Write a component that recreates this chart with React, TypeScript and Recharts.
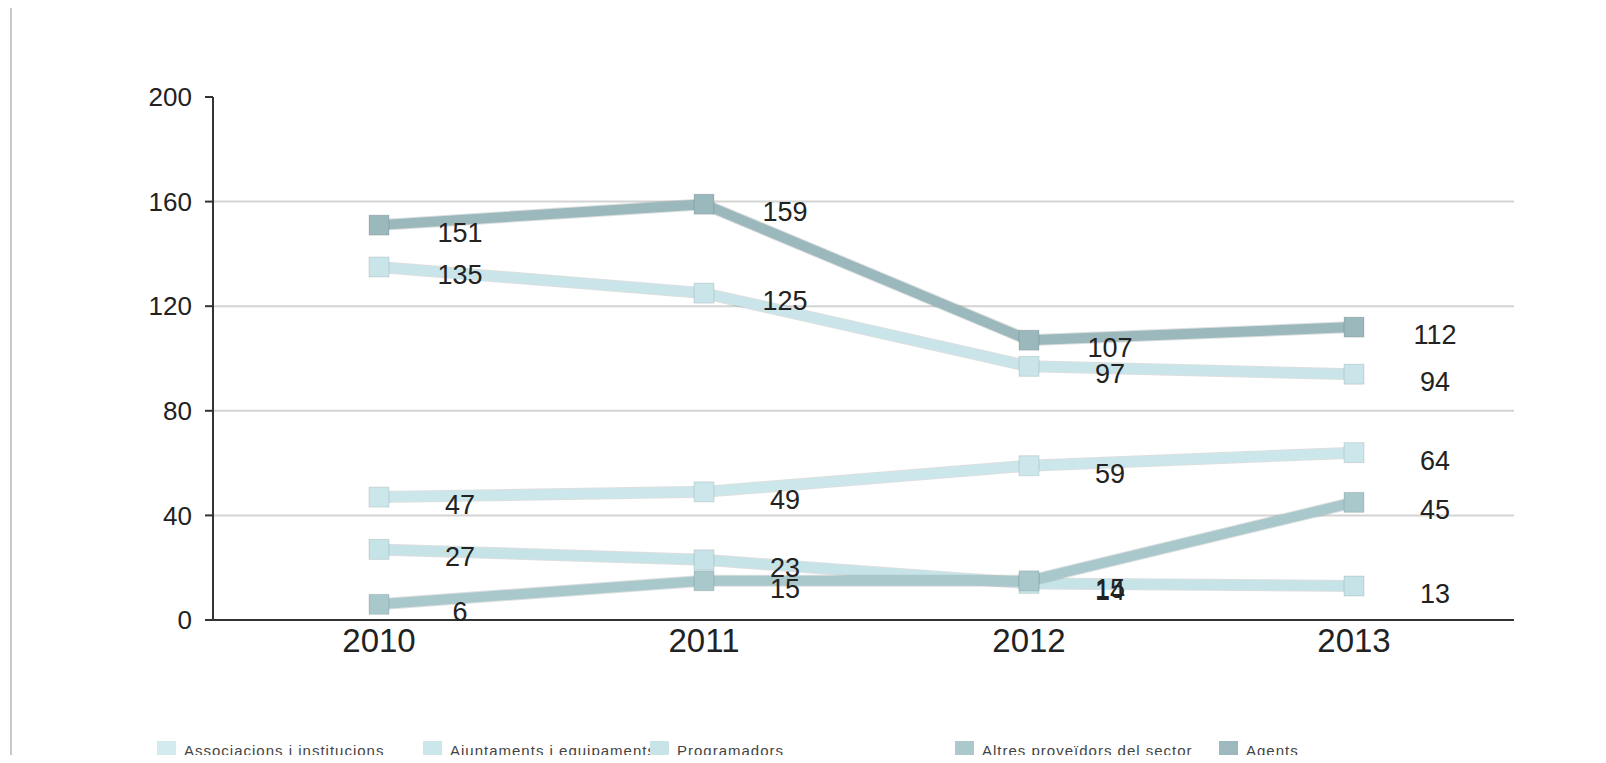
import React from 'react';
import { LineChart, Line, XAxis, YAxis, ReferenceLine, LabelList } from 'recharts';

// ---------- Data ----------
const years = ['2010', '2011', '2012', '2013'];
const associacions = [135, 125, 97, 94];
const ajuntaments = [47, 49, 59, 64];
const programadors = [27, 23, 14, 13];
const altres = [6, 15, 15, 45];
const agents = [151, 159, 107, 112];
const yTicks = [0, 40, 80, 120, 160, 200];
const gridValues = [40, 80, 120, 160];

const seriesDefs = [
  { key: 'associacions', name: 'Associacions i institucions', values: associacions, color: '#c9e5ea', swatch: '#d3ebee' },
  { key: 'ajuntaments', name: 'Ajuntaments i equipaments públics', values: ajuntaments, color: '#cce7eb', swatch: '#cbe6eb' },
  { key: 'programadors', name: 'Programadors', values: programadors, color: '#c6e3e8', swatch: '#c8e4e9' },
  { key: 'altres', name: 'Altres proveïdors del sector', values: altres, color: '#a9c8cc', swatch: '#abc9cd' },
  { key: 'agents', name: 'Agents', values: agents, color: '#9bb8bc', swatch: '#9db9bd' },
];

const data = years.map((year, i) => {
  const row: Record<string, string | number> = { year };
  seriesDefs.forEach((s) => {
    row[s.key] = s.values[i];
  });
  return row;
});

// legend item left edges (px); each text is clipped where the next swatch starts
const legendX = [157, 423, 650, 955, 1219];

const FONT = '"Liberation Sans", Arial, Helvetica, sans-serif';

function SquareDot(props: any) {
  const { cx, cy, fill } = props;
  if (cx == null || cy == null) return null;
  return <rect x={cx - 10} y={cy - 10} width={20} height={20} fill={fill} stroke="#0000001c" strokeWidth={1} />;
}

function ValueLabel(props: any) {
  const { x, y, value } = props;
  return (
    <text x={x + 81} y={y + 8} textAnchor="middle" dominantBaseline="central" fontSize={27} fill="#222" fontFamily={FONT}>
      {value}
    </text>
  );
}

export default function App() {
  return (
    <div style={{ position: 'relative', width: 1606, height: 763, margin: -8, overflow: 'hidden', background: '#fff', fontFamily: FONT }}>
      <div style={{ position: 'absolute', left: 10, top: 8, width: 2, height: 755, background: '#c8c8c8' }} />
      <div style={{ position: 'absolute', left: 0, top: 0 }}>
        <LineChart width={1606} height={680} data={data} margin={{ top: 97, right: 92, bottom: 10, left: 153 }}>
          {gridValues.map((v) => (
            <ReferenceLine key={v} y={v} stroke="#d4d4d4" strokeWidth={2} />
          ))}
          <XAxis
            dataKey="year"
            padding={{ left: 166, right: 160 }}
            height={50}
            tickLine={false}
            tickMargin={3}
            axisLine={{ stroke: '#333', strokeWidth: 2 }}
            tick={{ fontSize: 33, fill: '#222', fontFamily: FONT }}
          />
          <YAxis
            domain={[0, 200]}
            ticks={yTicks}
            width={60}
            tickSize={8}
            tickMargin={13}
            axisLine={{ stroke: '#333', strokeWidth: 2 }}
            tickLine={{ stroke: '#333', strokeWidth: 2 }}
            tick={{ fontSize: 26, fill: '#222', fontFamily: FONT }}
          />
          {seriesDefs.map((s) => [
            <Line
              key={s.key + '-edge'}
              type="linear"
              dataKey={s.key}
              stroke="rgba(60,80,85,0.18)"
              strokeWidth={12}
              dot={false}
              activeDot={false}
              legendType="none"
              isAnimationActive={false}
            />,
            <Line
              key={s.key}
              type="linear"
              dataKey={s.key}
              name={s.name}
              stroke={s.color}
              strokeWidth={10}
              dot={<SquareDot fill={s.color} />}
              activeDot={false}
              isAnimationActive={false}
            >
              <LabelList dataKey={s.key} content={<ValueLabel />} />
            </Line>,
          ])}
        </LineChart>
      </div>
      {seriesDefs.map((s, i) => {
        const next = legendX[i + 1];
        const textWidth = next != null ? next - legendX[i] - 27 : undefined;
        return (
          <div key={s.key} style={{ position: 'absolute', left: legendX[i], top: 741, display: 'flex', alignItems: 'center', height: 19 }}>
            <div style={{ width: 19, height: 19, background: s.swatch, marginRight: 8, flexShrink: 0 }} />
            <span
              style={{
                fontSize: 15,
                letterSpacing: 1,
                color: '#444',
                whiteSpace: 'nowrap',
                lineHeight: '19px',
                overflow: 'hidden',
                maxWidth: textWidth,
                display: 'inline-block',
              }}
            >
              {s.name}
            </span>
          </div>
        );
      })}
    </div>
  );
}
